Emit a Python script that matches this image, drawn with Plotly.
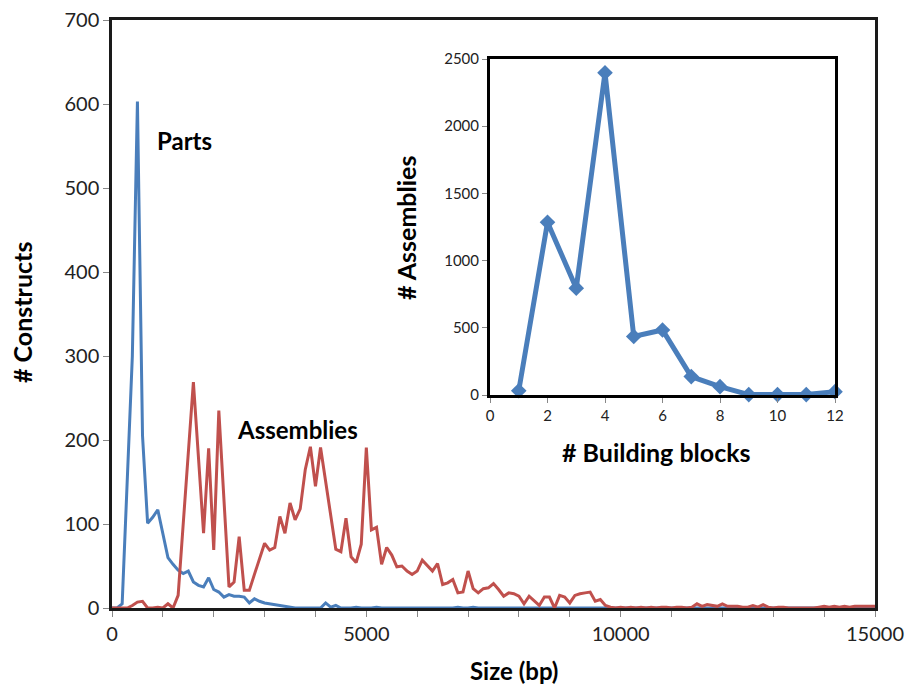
import plotly.graph_objects as go

# ---------------- data ----------------
bin_width = 100
size_bp = [i * bin_width for i in range(151)]  # 0 .. 15000 bp

parts = [
    0, 0, 5, 150, 300, 603, 205, 101, 108, 117,          # 0-900
    90, 60, 52, 45, 41, 44, 31, 27, 25, 36,              # 1000-1900
    22, 19, 13, 16, 14, 14, 13, 6, 11, 8,                # 2000-2900
    6, 5, 4, 3, 2, 1, 0, 0, 0, 0,                        # 3000-3900
    0, 0, 6, 1, 3, 0, 0, 0, 1, 0,                        # 4000-4900
    0, 0, 1, 0, 0, 0, 0, 0, 0, 0,                        # 5000-5900
    0, 0, 0, 0, 0, 0, 0, 0, 1, 0,                        # 6000-6900
    0, 1, 0, 0, 0, 0, 0, 0, 0, 0,                        # 7000-7900
    0, 0, 0, 0, 0, 0, 0, 0, 0, 0,                        # 8000-8900
    0, 0, 0, 0, 0, 0, 0, 0, 0, 0,                        # 9000-9900
    0, 0, 0, 0, 0, 0, 0, 0, 0, 0,                        # 10000-10900
    0, 0, 0, 0, 0, 0, 0, 0, 0, 0,                        # 11000-11900
    0, 0, 0, 0, 0, 0, 0, 0, 0, 0,                        # 12000-12900
    0, 0, 0, 0, 0, 0, 0, 0, 0, 0,                        # 13000-13900
    0, 0, 0, 0, 0, 0, 0, 0, 0, 0,                        # 14000-14900
    0,                                                   # 15000
]

assemblies = [
    0, 0, 0, 0, 3, 7, 8, 0, 0, 1,                        # 0-900
    0, 5, 0, 15, 100, 185, 269, 179, 89, 190,            # 1000-1900
    69, 235, 130, 25, 31, 85, 21, 21, 40, 58,            # 2000-2900
    77, 69, 72, 109, 89, 125, 105, 118, 165, 192,        # 3000-3900
    145, 191, 150, 110, 70, 67, 107, 61, 54, 76,         # 4000-4900
    191, 93, 96, 52, 72, 63, 49, 50, 44, 40,             # 5000-5900
    44, 57, 50, 44, 53, 28, 30, 34, 18, 19,              # 6000-6900
    44, 23, 18, 23, 24, 29, 22, 14, 18, 17,              # 7000-7900
    14, 5, 14, 9, 3, 13, 13, 0, 15, 13,                  # 8000-8900
    6, 15, 17, 18, 19, 8, 10, 3, 1, 0,                   # 9000-9900
    1, 0, 1, 0, 1, 0, 1, 0, 1, 1,                        # 10000-10900
    0, 1, 1, 0, 1, 5, 2, 4, 3, 2,                        # 11000-11900
    5, 2, 2, 2, 1, 1, 3, 1, 4, 1,                        # 12000-12900
    0, 1, 1, 0, 0, 0, 0, 0, 0, 1,                        # 13000-13900
    2, 1, 2, 1, 2, 1, 2, 2, 2, 2,                        # 14000-14900
    2,                                                   # 15000
]

building_blocks = [1, 2, 3, 4, 5, 6, 7, 8, 9, 10, 11, 12]
n_assemblies = [32, 1285, 795, 2398, 435, 484, 137, 62, 3, 3, 3, 25]

main_x_ticks = [0, 5000, 10000, 15000]
main_y_ticks = [0, 100, 200, 300, 400, 500, 600, 700]
inset_x_ticks = [0, 2, 4, 6, 8, 10, 12]
inset_y_ticks = [0, 500, 1000, 1500, 2000, 2500]

BLUE = "#4A7EBB"
RED = "#C0504D"
FONT = "Lato"

# ---------------- figure ----------------
fig = go.Figure()

fig.add_trace(go.Scatter(x=size_bp, y=parts, mode="lines", name="Parts",
                         line=dict(color=BLUE, width=3), xaxis="x", yaxis="y"))
fig.add_trace(go.Scatter(x=size_bp, y=assemblies, mode="lines", name="Assemblies",
                         line=dict(color=RED, width=3), xaxis="x", yaxis="y"))

fig.add_trace(go.Scatter(x=building_blocks, y=n_assemblies, mode="lines+markers",
                         line=dict(color=BLUE, width=5),
                         marker=dict(symbol="diamond", size=12, color=BLUE),
                         cliponaxis=False, xaxis="x2", yaxis="y2"))

tick_font = dict(family=FONT, size=20, color="#222")
title_font = dict(family=FONT, size=25, color="#000")

# plot area in px: x 112..875, y 20..608 (of 907x688)
W, H = 907, 688
L, R, T, B = 112, 32, 20, 80
pw, ph = W - L - R, H - T - B
ix0, ix1, iy0, iy1 = 490, 835, 59, 395
inset_xdom = [(ix0 - L) / pw, (ix1 - L) / pw]
inset_ydom = [(H - B - iy1) / ph, (H - B - iy0) / ph]


def px_to_paper(px, py):
    return (px - L) / pw, (H - B - py) / ph


xt_x, xt_y = px_to_paper(514, 670)
yt_x, yt_y = px_to_paper(22, 313)
ixt_x, ixt_y = px_to_paper(656, 452)
iyt_x, iyt_y = px_to_paper(406, 228)

fig.update_layout(
    width=W, height=H,
    margin=dict(l=L, r=R, t=T, b=B),
    paper_bgcolor="white", plot_bgcolor="white",
    showlegend=False,
    font=dict(family=FONT, color="#000"),
    xaxis=dict(
        range=[0, 15000], tickvals=main_x_ticks, ticktext=[str(v) for v in main_x_ticks],
        showgrid=False, zeroline=False, automargin=False,
        showline=True, linecolor="#1a1a1a", linewidth=2.5, mirror=True,
        ticks="outside", ticklen=6, tickcolor="#888", tickwidth=1,
        minor=dict(dtick=1000, tick0=0, ticks="outside", ticklen=6, tickcolor="#888", tickwidth=1, showgrid=False),
        tickfont=tick_font,
    ),
    yaxis=dict(
        range=[0, 700], tickvals=main_y_ticks, ticktext=[str(v) for v in main_y_ticks],
        showgrid=False, zeroline=False, automargin=False,
        showline=True, linecolor="#1a1a1a", linewidth=2.5, mirror=True,
        ticks="outside", ticklen=6, tickcolor="#888", tickwidth=1,
        tickfont=tick_font,
    ),
    xaxis2=dict(
        domain=inset_xdom, anchor="y2", range=[0, 12],
        tickvals=inset_x_ticks, ticktext=[str(v) for v in inset_x_ticks],
        showgrid=False, zeroline=False, automargin=False,
        showline=True, linecolor="#000", linewidth=3, mirror=True,
        ticks="outside", ticklen=5, tickcolor="#888",
        tickfont=dict(family=FONT, size=15, color="#222"),
    ),
    yaxis2=dict(
        domain=inset_ydom, anchor="x2", range=[0, 2500],
        tickvals=inset_y_ticks, ticktext=[str(v) for v in inset_y_ticks],
        showgrid=False, zeroline=False, automargin=False,
        showline=True, linecolor="#000", linewidth=3, mirror=True,
        ticks="outside", ticklen=5, tickcolor="#888",
        tickfont=dict(family=FONT, size=15, color="#222"),
    ),
    annotations=[
        dict(x=1417, y=557, xref="x", yref="y", text="<b>Parts</b>", showarrow=False,
             font=dict(family=FONT, size=24, color="#000")),
        dict(x=3642, y=212, xref="x", yref="y", text="<b>Assemblies</b>", showarrow=False,
             font=dict(family=FONT, size=24, color="#000")),
        dict(x=xt_x, y=xt_y, xref="paper", yref="paper", text="<b>Size (bp)</b>",
             showarrow=False, font=dict(family=FONT, size=24, color="#000"),
             xanchor="center", yanchor="middle"),
        dict(x=yt_x, y=yt_y, xref="paper", yref="paper", text="<b># Constructs</b>",
             showarrow=False, font=title_font, textangle=-90, xanchor="center", yanchor="middle"),
        dict(x=ixt_x, y=ixt_y, xref="paper", yref="paper", text="<b># Building blocks</b>",
             showarrow=False, font=title_font, xanchor="center", yanchor="middle"),
        dict(x=iyt_x, y=iyt_y, xref="paper", yref="paper", text="<b># Assemblies</b>",
             showarrow=False, font=title_font, textangle=-90, xanchor="center", yanchor="middle"),
    ],
)

fig.write_html("out.html")
